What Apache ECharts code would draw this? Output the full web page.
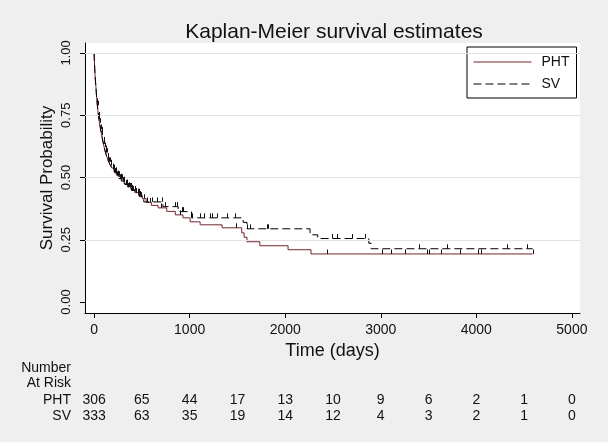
<!DOCTYPE html>
<html>
<head>
<meta charset="utf-8">
<title>Kaplan-Meier survival estimates</title>
<script src="https://cdn.jsdelivr.net/npm/echarts@6.0.0/dist/echarts.min.js"></script>
<style>
  html, body { margin: 0; padding: 0; background: #efefef; }
  #chart { width: 608px; height: 442px; }
</style>
</head>
<body>
<div id="chart"></div>
<script>
// KM step points: survival from each event time on
const phtTimes = [0, 5, 12, 20, 27, 34, 42, 50, 60, 72, 85, 98, 112, 128, 145, 165, 185, 208, 232, 258, 285, 315, 348, 385, 425, 465, 505, 545, 600, 670, 760, 850, 930, 1005, 1110, 1340, 1545, 1570, 1600, 1735, 2030, 2270]
const phtSurv = [1.0, 0.95, 0.9, 0.86, 0.82, 0.79, 0.76, 0.735, 0.71, 0.685, 0.66, 0.635, 0.61, 0.59, 0.57, 0.553, 0.538, 0.523, 0.51, 0.497, 0.485, 0.474, 0.463, 0.452, 0.44, 0.428, 0.415, 0.4, 0.388, 0.378, 0.364, 0.35, 0.338, 0.322, 0.31, 0.298, 0.278, 0.26, 0.242, 0.226, 0.21, 0.193]
const phtEnd = 4590
const svTimes = [0, 4, 10, 18, 25, 32, 40, 48, 57, 68, 80, 92, 106, 120, 136, 153, 172, 192, 214, 238, 264, 292, 322, 355, 392, 432, 475, 520, 720, 880, 1020, 1560, 1600, 2260, 2340, 2875, 2900]
const svSurv = [1.0, 0.96, 0.91, 0.87, 0.83, 0.8, 0.77, 0.745, 0.72, 0.695, 0.67, 0.645, 0.622, 0.6, 0.58, 0.563, 0.548, 0.533, 0.52, 0.507, 0.495, 0.483, 0.472, 0.46, 0.448, 0.437, 0.423, 0.402, 0.383, 0.363, 0.338, 0.32, 0.294, 0.27, 0.255, 0.236, 0.214]
const svEnd = 4590

// censoring times
const phtCensored = [40, 55, 80, 105, 125, 150, 175, 200, 225, 250, 280, 310, 340, 370, 400, 440, 480, 520, 580, 700, 900, 1485, 2435, 3010, 3105, 3250, 3480, 3510, 3630, 3830, 4020, 4050, 4590]
const svCensored = [35, 48, 62, 75, 88, 100, 110, 122, 133, 145, 158, 170, 182, 195, 205, 218, 228, 240, 250, 262, 275, 290, 300, 315, 330, 345, 360, 372, 385, 398, 410, 425, 440, 455, 470, 490, 555, 607, 659, 711, 743, 847, 868, 920, 931, 1025, 1109, 1150, 1210, 1234, 1290, 1391, 1475, 1600, 1632, 1810, 1820, 2490, 2540, 2700, 2835, 3400, 3690, 4320, 4530]

const xTicks = [0, 1000, 2000, 3000, 4000, 5000]
const yTicks = [0, 0.25, 0.5, 0.75, 1]
const yGrid = [0.25, 0.5, 0.75, 1]

// number at risk table
const riskTimes = [0, 500, 1000, 1500, 2000, 2500, 3000, 3500, 4000, 4500, 5000]
const riskPHT = [306, 65, 44, 17, 13, 10, 9, 6, 2, 1, 0]
const riskSV = [333, 63, 35, 19, 14, 12, 4, 3, 2, 1, 0]

const FONT = '"Liberation Sans", Arial, sans-serif'
const PHT_COLOR = '#74262d'

function stepData (times, surv, end) {
  let pts = times.map((t, i) => [t, surv[i]])
  pts.push([end, surv[surv.length - 1]])
  return pts
}

function survAt (times, surv, t) {
  let s = surv[0]
  times.forEach((tt, i) => { if (tt <= t) s = surv[i] })
  return s
}

function censorData (cens, times, surv) {
  return cens.map(t => [t, survAt(times, surv, t)])
}

function renderTick (params, api) {
  let p0 = api.coord([api.value(0), api.value(1)])
  let p1 = api.coord([api.value(0), api.value(1) + 0.018])
  let x = Math.round(p0[0]) + 0.5
  return {
    type: 'line',
    shape: { x1: x, y1: p0[1], x2: x, y2: p1[1] },
    style: { stroke: '#111', lineWidth: 1 }
  }
}

var myChart = echarts.init(document.getElementById('chart'))

myChart.setOption({
  animation: false,
  backgroundColor: '#efefef',
  title: {
    text: 'Kaplan-Meier survival estimates',
    left: 329,
    top: 17,
    textAlign: 'center',
    textStyle: { fontFamily: FONT, fontSize: 21, fontWeight: 'normal', color: '#111' }
  },
  legend: {
    data: ['PHT', 'SV'],
    orient: 'vertical',
    left: 467,
    top: 47,
    itemWidth: 58,
    itemHeight: 13,
    itemGap: 8,
    padding: [8, 7, 7, 6],
    backgroundColor: '#fff',
    borderColor: '#000',
    borderWidth: 1,
    borderRadius: 0,
    itemStyle: { opacity: 0 },
    lineStyle: { width: 1 },
    textStyle: { fontFamily: FONT, fontSize: 14, color: '#111', padding: [0, 0, 0, 5] }
  },
  grid: {
    left: 85,
    right: 28,
    top: 43,
    bottom: 129,
    show: true,
    backgroundColor: '#fff',
    borderWidth: 0
  },
  xAxis: {
    type: 'value',
    min: -95,
    max: 5085,
    name: 'Time (days)',
    nameLocation: 'middle',
    nameGap: 23,
    nameTextStyle: { fontFamily: FONT, fontSize: 18, color: '#111' },
    axisLine: { show: true, onZero: false, lineStyle: { color: '#000', width: 1 } },
    axisTick: { show: true, length: 5, customValues: xTicks, lineStyle: { color: '#000' } },
    axisLabel: {
      customValues: xTicks,
      margin: 10,
      fontFamily: FONT,
      fontSize: 14,
      color: '#111',
      formatter: v => String(v)
    },
    splitLine: { show: false }
  },
  yAxis: {
    type: 'value',
    min: -0.044,
    max: 1.04,
    name: 'Survival Probability',
    nameLocation: 'middle',
    nameRotate: 90,
    nameGap: 29,
    nameMoveOverlap: false,
    nameTextStyle: { fontFamily: FONT, fontSize: 17, color: '#111' },
    axisLine: { show: true, onZero: false, lineStyle: { color: '#000', width: 1 } },
    axisTick: { show: true, length: 5, customValues: yTicks, lineStyle: { color: '#000' } },
    axisLabel: {
      customValues: yTicks,
      rotate: 90,
      margin: 12,
      fontFamily: FONT,
      fontSize: 13,
      color: '#111',
      formatter: v => v.toFixed(2)
    },
    splitLine: { show: false }
  },
  series: [
    {
      name: 'gridlines',
      type: 'line',
      data: [],
      z: 1,
      markLine: {
        silent: true,
        symbol: 'none',
        label: { show: false },
        lineStyle: { color: '#e3e3e3', width: 1, type: 'solid' },
        data: yGrid.map(v => ({ yAxis: v }))
      }
    },
    {
      name: 'PHT',
      type: 'line',
      step: 'end',
      data: stepData(phtTimes, phtSurv, phtEnd),
      symbol: 'none',
      showSymbol: false,
      z: 3,
      itemStyle: { color: PHT_COLOR },
      lineStyle: { color: PHT_COLOR, width: 1 }
    },
    {
      name: 'SV',
      type: 'line',
      step: 'end',
      data: stepData(svTimes, svSurv, svEnd),
      symbol: 'none',
      showSymbol: false,
      z: 4,
      itemStyle: { color: '#000' },
      lineStyle: { color: '#000', width: 1, type: [8, 4] }
    },
    {
      name: 'PHT censored',
      type: 'custom',
      renderItem: renderTick,
      data: censorData(phtCensored, phtTimes, phtSurv),
      z: 5
    },
    {
      name: 'SV censored',
      type: 'custom',
      renderItem: renderTick,
      data: censorData(svCensored, svTimes, svSurv),
      z: 5
    }
  ]
})

// number-at-risk rows under the axis, placed with the x scale
let riskText = []
const rows = [
  { label: 'Number', y: 368, values: null },
  { label: 'At Risk', y: 383, values: null },
  { label: 'PHT', y: 400, values: riskPHT },
  { label: 'SV', y: 416, values: riskSV }
]
rows.forEach(row => {
  riskText.push({
    type: 'text',
    x: 71,
    y: row.y,
    style: { text: row.label, align: 'right', verticalAlign: 'middle', font: '14px ' + FONT, fill: '#111' }
  })
  if (row.values) {
    riskTimes.forEach((t, i) => {
      riskText.push({
        type: 'text',
        x: myChart.convertToPixel({ xAxisIndex: 0 }, t),
        y: row.y,
        style: { text: String(row.values[i]), align: 'center', verticalAlign: 'middle', font: '14px ' + FONT, fill: '#111' }
      })
    })
  }
})
myChart.setOption({ graphic: riskText })
</script>
</body>
</html>
